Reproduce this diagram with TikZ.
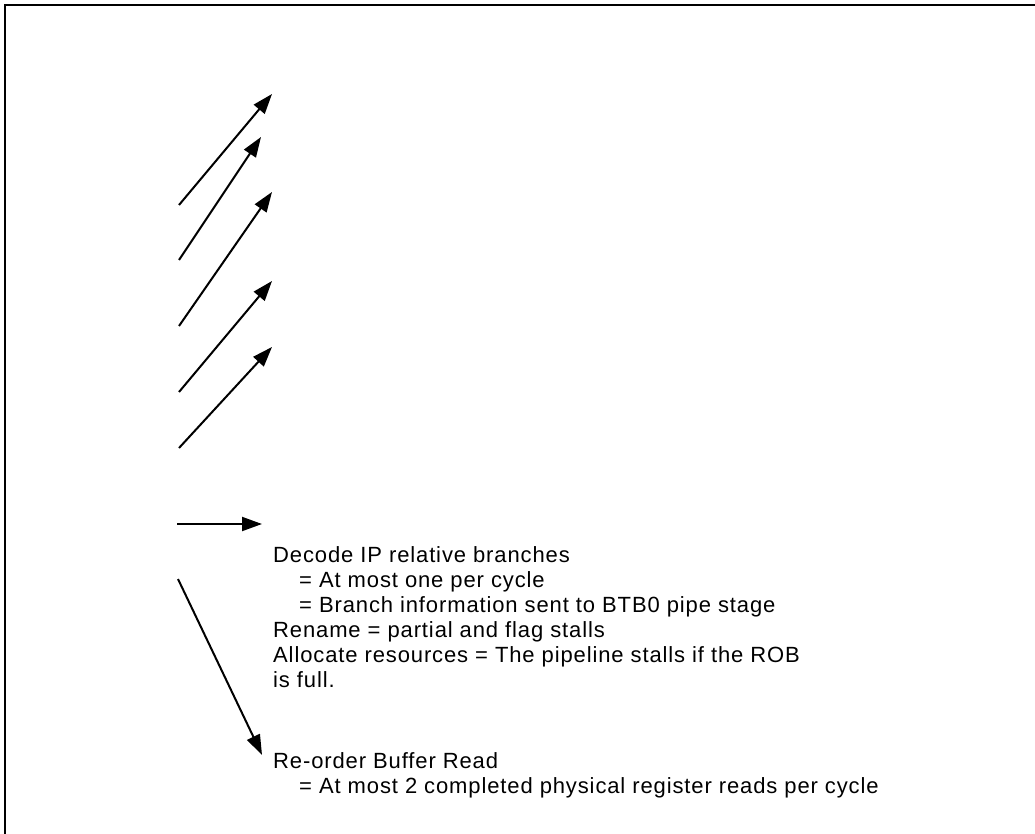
\documentclass[tikz,border=0pt]{standalone}
\usepackage{fontspec}
\setmainfont{Liberation Sans}[LetterSpace=4]
\usetikzlibrary{positioning,arrows.meta}

\begin{document}
\begin{tikzpicture}
    [x=1pt,y=-1pt,
     flow/.style={-{Triangle[length=20pt,width=14pt]},line width=2pt},
     note/.style={inner sep=0pt,anchor=base west,
       font=\fontsize{22}{25}\selectfont}]

    \useasboundingbox (0,0) rectangle (1035,834);
    \draw[line width=2pt] (5,834) -- (5,5) -- (1035,5);

    % diagonal feeds
    \coordinate (a1) at (179,205); \coordinate (b1) at (272,94);
    \coordinate (a2) at (179,260); \coordinate (b2) at (261,137);
    \coordinate (a3) at (179,326); \coordinate (b3) at (272,192);
    \coordinate (a4) at (179,392); \coordinate (b4) at (272,281);
    \coordinate (a5) at (179,448); \coordinate (b5) at (272,347);
    \foreach \i in {1,...,5}
      \draw[flow] (a\i) -- (b\i);

    % decode block, one line per node
    \node[note] (decode) at (273,562) {Decode IP relative branches};
    \node[note] (oneper) at (299,587) {= At most one per cycle};
    \node[note] (btb) at (299,612) {= Branch information sent to BTB0 pipe stage};
    \node[note] (rename) at (273,637) {Rename = partial and flag stalls};
    \node[note] (alloc) at (273,662) {Allocate resources = The pipeline stalls if the ROB};
    \node[note] (full) at (273,687) {is full.};

    \node[note] (rob) at (273,768) {Re-order Buffer Read};
    \node[note] (reads) at (299,793) {= At most 2 completed physical register reads per cycle};

    \coordinate (a6) at (177,524);
    \draw[flow] (a6) -- ([xshift=-11pt]a6 -| decode.west);

    \coordinate (a7) at (178,579);
    \draw[flow] (a7) -- ([xshift=-11pt,yshift=-3pt]rob.north west);
\end{tikzpicture}
\end{document}
